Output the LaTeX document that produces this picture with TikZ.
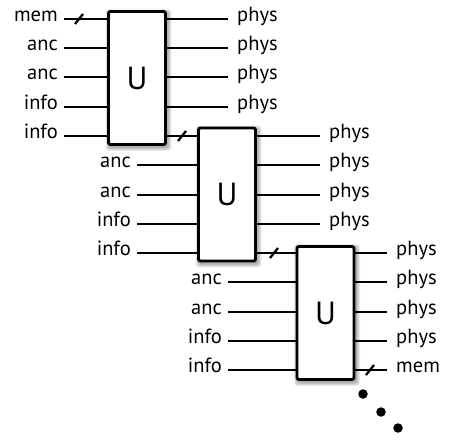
\documentclass[tikz,border=0pt]{standalone}
\usepackage{fontspec}
\setmainfont{PT Sans}
\begin{document}
\begin{tikzpicture}[x=1pt,y=-1pt,
  wire/.style={line width=2.4pt},
  slash/.style={line width=2.3pt},
  gatebox/.style={draw, line width=2.9pt, fill=white, rounded corners=2pt,
    minimum width=57pt, minimum height=133pt, inner sep=0pt,
    font=\fontsize{32}{36}\selectfont},
  inlab/.style={anchor=mid east, inner sep=0pt, xshift=-6pt, font=\fontsize{20.5}{24}\selectfont},
  outlab/.style={anchor=mid west, inner sep=0pt, xshift=9pt, font=\fontsize{20.5}{24}\selectfont},
  dotmark/.style={circle, fill=black, inner sep=0pt, minimum size=9.5pt}]
\useasboundingbox (0,0) rectangle (449,443);
% shadows
\foreach \cx/\cy in {137/78, 227/194.5, 325.5/313}{
  \foreach \g in {1,2,3,4,5}{
    \fill[black, opacity=0.07, rounded corners=3pt]
      ({\cx-29-\g*0.8+1.5},{\cy-67-\g*0.8+2}) rectangle ({\cx+29+\g*0.8+1.5},{\cy+67+\g*0.8+2});
  }
}
% boxes
\node[gatebox] (b1) at (137,78) {U};
\node[gatebox] (b2) at (227,194.5) {U};
\node[gatebox] (b3) at (325.5,313) {U};
% ---------- box 1 inputs
\foreach \i/\y/\t in {1/19/mem,2/48/anc,3/77/anc,4/107/info,5/136/info}{
  \coordinate (a\i) at (64,\y);
  \node[inlab] (la\i) at (a\i) {\t};
  \draw[wire] (a\i) -- (a\i -| b1.west);
}
\coordinate (s1) at (79,19);
\draw[slash] ([xshift=-4pt,yshift=-5pt]s1) -- ([xshift=4pt,yshift=5pt]s1);
% box 1 outputs
\foreach \i/\y in {1/19,2/48,3/77,4/107}{
  \coordinate (oa\i) at (228,\y);
  \draw[wire] (oa\i -| b1.east) -- (oa\i);
  \node[outlab] (loa\i) at (oa\i) {phys};
}
% link 1 -> 2
\coordinate (k1) at (182,136);
\draw[wire] (k1 -| b1.east) -- (k1 -| b2.west);
\draw[slash] ([xshift=-4pt,yshift=-5pt]k1) -- ([xshift=4pt,yshift=5pt]k1);
% ---------- box 2 inputs
\foreach \i/\y/\t in {2/165/anc,3/195/anc,4/224/info,5/253/info}{
  \coordinate (c\i) at (137,\y);
  \node[inlab] (lc\i) at (c\i) {\t};
  \draw[wire] (c\i) -- (c\i -| b2.west);
}
% box 2 outputs
\foreach \i/\y in {1/136,2/165,3/195,4/224}{
  \coordinate (oc\i) at (320,\y);
  \draw[wire] (oc\i -| b2.east) -- (oc\i);
  \node[outlab] (loc\i) at (oc\i) {phys};
}
% link 2 -> 3
\coordinate (k2) at (274,253);
\draw[wire] (k2 -| b2.east) -- (k2 -| b3.west);
\draw[slash] ([xshift=-4pt,yshift=-5pt]k2) -- ([xshift=4pt,yshift=5pt]k2);
% ---------- box 3 inputs
\foreach \i/\y/\t in {2/282/anc,3/312/anc,4/341/info,5/370/info}{
  \coordinate (e\i) at (228,\y);
  \node[inlab] (le\i) at (e\i) {\t};
  \draw[wire] (e\i) -- (e\i -| b3.west);
}
% box 3 outputs
\foreach \i/\y/\t in {1/253/phys,2/282/phys,3/312/phys,4/341/phys,5/370/mem}{
  \coordinate (oe\i) at (387,\y);
  \draw[wire] (oe\i -| b3.east) -- (oe\i);
  \node[outlab] (loe\i) at (oe\i) {\t};
}
\coordinate (s3) at (370,370);
\draw[slash] ([xshift=-4pt,yshift=-5pt]s3) -- ([xshift=4pt,yshift=5pt]s3);
% dots
\node[dotmark] (d1) at (363,394) {};
\node[dotmark] (d2) at (381,412) {};
\node[dotmark] (d3) at (398,428) {};
\end{tikzpicture}
\end{document}
